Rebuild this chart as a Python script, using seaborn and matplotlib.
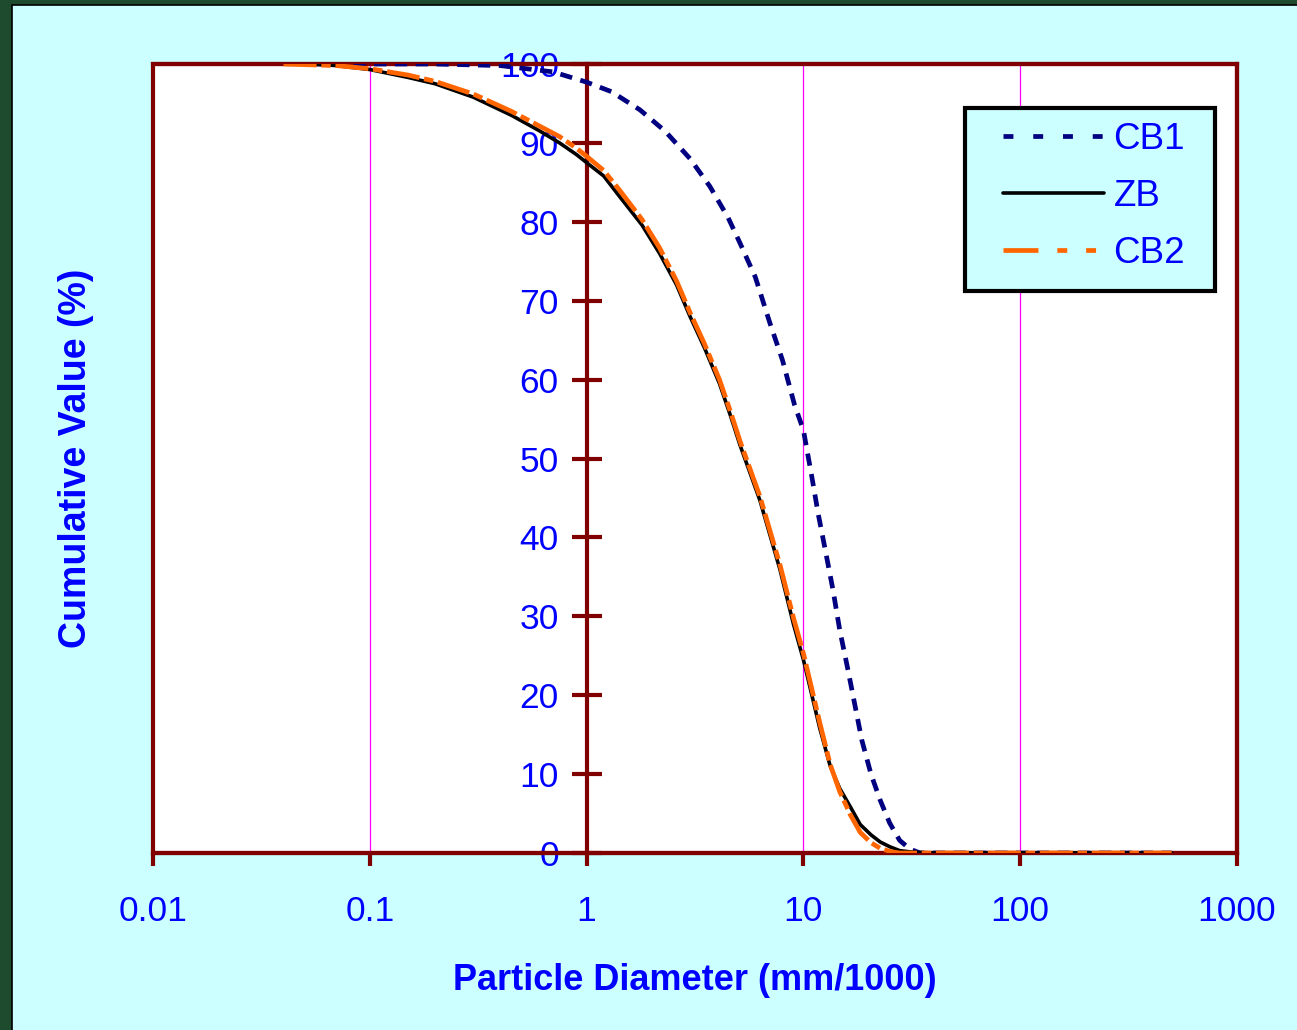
import matplotlib
matplotlib.use("Agg")
import matplotlib.pyplot as plt
from matplotlib.patches import Rectangle
import seaborn as sns
import pandas as pd

# ---- data ----
cb1_d = [0.054, 0.1, 0.2, 0.4, 0.7, 1.0, 1.3, 1.76, 2.3, 3.0, 3.7, 4.5, 5.1, 6.0, 7.0, 8.0, 9.1, 10.0,
         10.95, 11.7, 12.7, 13.7, 14.7, 16.0, 18.6, 20.5, 22.6, 25.0, 27.8, 31.0, 34.5, 50, 100, 200, 500]
cb1_v = [100, 100, 100, 99.8, 99, 97.7, 96.5, 94.2, 91.5, 88, 84.5, 80.5, 77.3, 73, 67.2, 62.5, 56.8, 53.6,
         47.6, 43, 38, 33.3, 28.3, 23.4, 14.3, 10, 6.7, 3.8, 1.6, 0.5, 0, 0, 0, 0, 0]

zb_d = [0.054, 0.07, 0.1, 0.15, 0.2, 0.3, 0.45, 0.6, 0.75, 0.9, 1.0, 1.2, 1.42, 1.8, 2.17, 2.6, 3.0, 3.5,
        4.1, 4.6, 5.1, 6.3, 7.8, 9.0, 10, 11.9, 13.3, 14.7, 16.5, 18.3, 20.5, 22.6, 25, 27.8, 32, 40, 100, 200, 500]
zb_v = [100, 99.8, 99.3, 98.3, 97.5, 95.8, 93.5, 91.6, 90, 88.5, 87.5, 85.8, 83.2, 79.6, 76, 72, 68, 64,
        59.5, 55.5, 51.7, 44.7, 35.9, 29, 24.5, 15.8, 11, 8.2, 5.8, 3.6, 2.3, 1.4, 0.8, 0.3, 0.1, 0, 0, 0, 0]

cb2_d = [0.04, 0.07, 0.1, 0.15, 0.2, 0.3, 0.45, 0.6, 0.75, 0.9, 1.0, 1.2, 1.42, 1.8, 2.17, 2.6, 3.0, 3.5,
         4.1, 4.6, 5.1, 6.3, 7.8, 9.0, 10, 11.9, 13.3, 14.7, 16.5, 18.3, 20.5, 22.6, 25, 27.8, 32, 40, 100, 200, 500]
cb2_v = [100, 99.8, 99.4, 98.6, 97.8, 96.2, 94, 92.2, 90.8, 89.3, 88.3, 86.5, 84, 80.3, 76.7, 72.5, 68.5, 64.5,
         60, 56, 52.2, 45.2, 36.5, 29.8, 25.3, 16.5, 11.2, 7.8, 4.8, 2.6, 1.3, 0.6, 0.2, 0, 0, 0, 0, 0, 0]

x_ticks = [0.01, 0.1, 1, 10, 100, 1000]
x_tick_labels = ["0.01", "0.1", "1", "10", "100", "1000"]
y_ticks = list(range(0, 101, 10))

sns.set_style("white")
plt.rcParams["font.family"] = ["Liberation Sans", "DejaVu Sans"]

BLUE = "#0000FF"
MAROON = "#800000"
CYAN = "#CCFFFF"
W, H = 1297, 1030

fig = plt.figure(figsize=(W / 100, H / 100), dpi=100)
fig.patch.set_facecolor("#1e4a2e")
fig.add_artist(Rectangle((12 / W, -0.01), 1.0, 1.01 - 5 / H, transform=fig.transFigure,
                         facecolor=CYAN, edgecolor="black", linewidth=1.2, zorder=-1))

ax = fig.add_axes([153 / W, 1 - 853 / H, (1237 - 153) / W, (853 - 64) / H])
ax.set_facecolor("white")
ax.set_xscale("log")
ax.set_xlim(0.01, 1000)
ax.set_ylim(0, 100)

# gridlines
for xv in [0.1, 10, 100]:
    ax.axvline(xv, color="#FF00FF", linewidth=0.9, zorder=1)

df1 = pd.DataFrame({"d": cb1_d, "v": cb1_v})
df2 = pd.DataFrame({"d": zb_d, "v": zb_v})
df3 = pd.DataFrame({"d": cb2_d, "v": cb2_v})

sns.lineplot(data=df1, x="d", y="v", ax=ax, color="#000080", linewidth=3.4,
             label="CB1", zorder=3, estimator=None, sort=False)
ax.lines[-1].set_dashes((2.6, 1.8))
sns.lineplot(data=df2, x="d", y="v", ax=ax, color="black", linewidth=2.6,
             label="ZB", zorder=3, estimator=None, sort=False)
sns.lineplot(data=df3, x="d", y="v", ax=ax, color="#FF6600", linewidth=3.4,
             label="CB2", zorder=4, estimator=None, sort=False)
ax.lines[-1].set_dashes((7, 1.0, 2, 1.0))

# frame
for s in ["top", "right", "bottom"]:
    ax.spines[s].set_color(MAROON)
    ax.spines[s].set_linewidth(3)
ax.spines["left"].set_position(("data", 1))
ax.spines["left"].set_color(MAROON)
ax.spines["left"].set_linewidth(3)
ax.spines["left"].set_zorder(2)
ax.add_patch(Rectangle((0, 0), 1, 1, transform=ax.transAxes, fill=False,
                       edgecolor=MAROON, linewidth=3, zorder=2.5, clip_on=False))

ax.set_xticks(x_ticks)
ax.set_xticklabels(x_tick_labels)
ax.xaxis.set_minor_locator(matplotlib.ticker.NullLocator())
ax.set_yticks(y_ticks)
ax.set_yticklabels([str(v) for v in y_ticks])

ax.tick_params(axis="x", bottom=True, direction="out", length=9, width=3, color=MAROON,
               labelsize=25.5, labelcolor=BLUE, pad=21)
ax.tick_params(axis="y", left=True, direction="inout", length=22, width=3, color=MAROON,
               labelsize=25.5, labelcolor=BLUE, pad=9)

ax.set_xlabel("Particle Diameter (mm/1000)", fontsize=26, fontweight="bold", color=BLUE)
ax.xaxis.set_label_coords(0.5, -(963 - 853) / 789)
ax.set_ylabel("Cumulative Value (%)", fontsize=27, fontweight="bold", color=BLUE)
ax.yaxis.set_label_coords((94 - 153) / 1084, 0.5)

# legend box (drawn inside the axes so that the legend sits above it)
ax.add_patch(Rectangle((965 / W, 1 - 291 / H), (1215 - 965) / W, (291 - 108) / H,
                       transform=fig.transFigure, facecolor=CYAN, edgecolor="black",
                       linewidth=3, zorder=8, clip_on=False))
leg = ax.legend(loc="upper left", bbox_to_anchor=((1003 - 153) / 1084, (853 - 122) / 789),
                frameon=False, fontsize=26.5, handlelength=2.75, handletextpad=0.25,
                labelspacing=0.60, borderpad=0, borderaxespad=0)
for t in leg.get_texts():
    t.set_color(BLUE)
lh = leg.get_lines()
lh[0].set_dashes((2.1, 4.2))
lh[2].set_dashes((7.4, 4.0, 2.1, 4.0, 2.1, 4.0))
leg.set_zorder(10)

fig.savefig("out.png", dpi=100, facecolor=fig.get_facecolor())
